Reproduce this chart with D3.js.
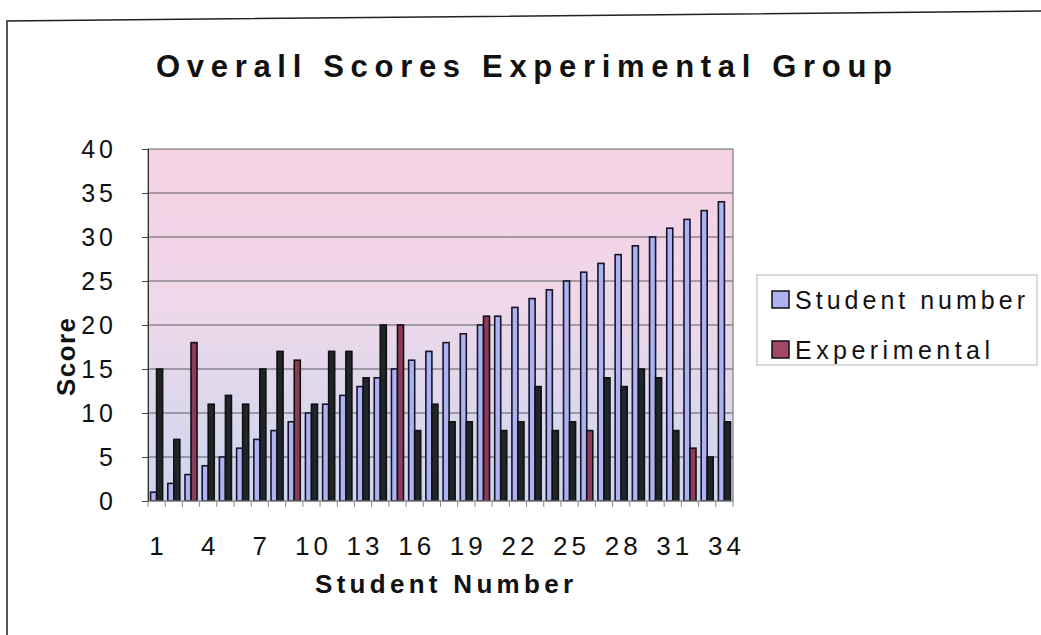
<!DOCTYPE html>
<html lang="en">

<head>
  <meta charset="UTF-8">
  <script src="https://d3js.org/d3.v7.min.js"></script>
  <title>Overall Scores Experimental Group</title>
  <style>
    body {
      margin: 0;
      background: #fff;
    }

    text {
      font-family: "Liberation Sans Narrow", "Liberation Sans", Arial, sans-serif;
      fill: #111;
    }
  </style>
</head>

<body>
  <div id="chart"></div>
  <script>
    // Data
    const students = ["1", "2", "3", "4", "5", "6", "7", "8", "9", "10", "11", "12", "13", "14", "15", "16", "17",
      "18", "19", "20", "21", "22", "23", "24", "25", "26", "27", "28", "29", "30", "31", "32", "33", "34"];
    const studentNumber = [1, 2, 3, 4, 5, 6, 7, 8, 9, 10, 11, 12, 13, 14, 15, 16, 17,
      18, 19, 20, 21, 22, 23, 24, 25, 26, 27, 28, 29, 30, 31, 32, 33, 34];
    const experimental = [15, 7, 18, 11, 12, 11, 15, 17, 16, 11, 17, 17, 14, 20, 20, 8, 11,
      9, 9, 21, 8, 9, 13, 8, 9, 8, 14, 13, 15, 14, 8, 6, 5, 9];
    const xTickLabels = ["1", "4", "7", "10", "13", "16", "19", "22", "25", "28", "31", "34"];
    const yTicks = [0, 5, 10, 15, 20, 25, 30, 35, 40];
    const seriesNames = ["Student number", "Experimental"];

    const width = 1041;
    const height = 635;
    const plot = { left: 148, right: 733, top: 149, bottom: 501 };

    // the scan darkened most experimental bars, only some still read as maroon
    const maroonBars = ["3", "9", "15", "20", "26", "32"];

    const svg = d3.select("#chart")
      .append("svg")
      .attr("width", width)
      .attr("height", height);

    const defs = svg.append("defs");
    const bg = defs.append("linearGradient")
      .attr("id", "plot-bg")
      .attr("x1", "0").attr("y1", "0")
      .attr("x2", "0").attr("y2", "1");
    bg.append("stop").attr("offset", "0%").attr("stop-color", "#f5d2e4");
    bg.append("stop").attr("offset", "45%").attr("stop-color", "#eed8e9");
    bg.append("stop").attr("offset", "100%").attr("stop-color", "#ccd6ef");

    // outer frame (top and left edge visible in the scan)
    svg.append("path")
      .attr("d", "M7,635 L7,21 L1041,11")
      .attr("fill", "none")
      .attr("stroke", "#222")
      .attr("stroke-width", 1.5);

    const x = d3.scaleBand()
      .domain(students)
      .range([plot.left, plot.right])
      .paddingInner(0.3)
      .paddingOuter(0.15);

    const xSub = d3.scaleBand()
      .domain(seriesNames)
      .range([0, x.bandwidth()]);

    const y = d3.scaleLinear()
      .domain([0, 40])
      .range([plot.bottom, plot.top]);

    // plot area
    svg.append("rect")
      .attr("x", plot.left)
      .attr("y", plot.top)
      .attr("width", plot.right - plot.left)
      .attr("height", plot.bottom - plot.top)
      .attr("fill", "url(#plot-bg)");

    svg.append("g")
      .selectAll("line")
      .data(yTicks.filter(d => d > 0 && d < 40))
      .join("line")
      .attr("x1", plot.left)
      .attr("x2", plot.right)
      .attr("y1", d => y(d))
      .attr("y2", d => y(d))
      .attr("stroke", "#5a5a5a")
      .attr("stroke-width", 1);

    // bars
    const groups = svg.append("g")
      .selectAll("g")
      .data(students)
      .join("g")
      .attr("transform", d => `translate(${x(d)},0)`);

    groups.append("rect")
      .attr("x", xSub("Student number"))
      .attr("width", xSub.bandwidth())
      .attr("y", (d, i) => y(studentNumber[i]))
      .attr("height", (d, i) => y(0) - y(studentNumber[i]))
      .attr("fill", "#aeb2f0")
      .attr("stroke", "#15152a")
      .attr("stroke-width", 1.6);

    groups.append("rect")
      .attr("x", xSub("Experimental"))
      .attr("width", xSub.bandwidth())
      .attr("y", (d, i) => y(experimental[i]))
      .attr("height", (d, i) => y(0) - y(experimental[i]))
      .attr("fill", d => maroonBars.includes(d) ? "#8c3b58" : "#1f2529")
      .attr("stroke", "#111")
      .attr("stroke-width", 1.6);

    svg.append("rect")
      .attr("x", plot.left)
      .attr("y", plot.top)
      .attr("width", plot.right - plot.left)
      .attr("height", plot.bottom - plot.top)
      .attr("fill", "none")
      .attr("stroke", "#7a7a7a")
      .attr("stroke-width", 1.2);

    // y axis
    const yAxis = svg.append("g")
      .attr("transform", `translate(${plot.left},0)`)
      .call(d3.axisLeft(y).tickValues(yTicks).tickSize(6).tickPadding(25));
    yAxis.select(".domain").attr("stroke", "#333");
    yAxis.selectAll(".tick line").attr("stroke", "#444");
    yAxis.selectAll("text")
      .attr("font-size", 25)
      .style("letter-spacing", "4px")
      .attr("fill", "#111");

    // x axis: boundary ticks between categories
    const boundaries = students.map(d => x(d) - x.step() * x.paddingInner() / 2).concat([plot.right]);
    svg.append("g")
      .selectAll("line")
      .data(boundaries)
      .join("line")
      .attr("x1", d => d)
      .attr("x2", d => d)
      .attr("y1", plot.bottom)
      .attr("y2", plot.bottom + 6)
      .attr("stroke", "#888");

    const xAxis = svg.append("g")
      .attr("transform", `translate(0,${plot.bottom})`)
      .call(d3.axisBottom(x).tickValues(xTickLabels).tickSize(0).tickPadding(36));
    xAxis.select(".domain").attr("stroke", "#999");
    xAxis.selectAll("text")
      .attr("font-size", 26)
      .attr("dx", 2)
      .style("letter-spacing", "4px")
      .attr("fill", "#111");

    // titles
    svg.append("text")
      .attr("x", 156)
      .attr("y", 77)
      .attr("font-size", 31)
      .attr("font-weight", "bold")
      .attr("textLength", 736)
      .attr("lengthAdjust", "spacing")
      .text("Overall Scores Experimental Group");

    svg.append("text")
      .attr("x", 315)
      .attr("y", 593)
      .attr("font-size", 26)
      .attr("font-weight", "bold")
      .attr("textLength", 258)
      .attr("lengthAdjust", "spacing")
      .text("Student Number");

    svg.append("text")
      .attr("transform", "translate(75,396) rotate(-90)")
      .attr("font-size", 26)
      .attr("font-weight", "bold")
      .attr("textLength", 78)
      .attr("lengthAdjust", "spacing")
      .text("Score");

    // legend
    const legendColors = ["#aeb2f0", "#a04866"];
    const legendLengths = [230, 195];
    const legend = svg.append("g");
    legend.append("rect")
      .attr("x", 757)
      .attr("y", 275)
      .attr("width", 280)
      .attr("height", 90)
      .attr("fill", "#fff")
      .attr("stroke", "#b5b5b5");

    const items = legend.selectAll("g.item")
      .data(seriesNames)
      .join("g")
      .attr("class", "item")
      .attr("transform", (d, i) => `translate(772,${291 + i * 50})`);

    items.append("rect")
      .attr("width", 17)
      .attr("height", 17)
      .attr("fill", (d, i) => legendColors[i])
      .attr("stroke", "#111")
      .attr("stroke-width", 1.5);

    items.append("text")
      .attr("x", 23)
      .attr("y", 18)
      .attr("font-size", 25)
      .attr("textLength", (d, i) => legendLengths[i])
      .attr("lengthAdjust", "spacing")
      .text(d => d);
  </script>
</body>

</html>
